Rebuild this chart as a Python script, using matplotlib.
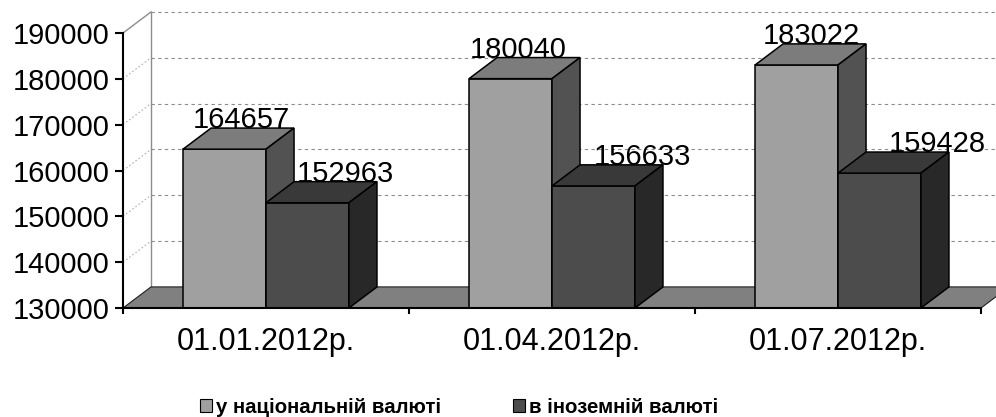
import matplotlib
matplotlib.use("Agg")
import matplotlib.pyplot as plt
from matplotlib.patches import Polygon, Patch

plt.rcParams["font.family"] = ["Liberation Sans", "DejaVu Sans"]

dates = ["01.01.2012р.", "01.04.2012р.", "01.07.2012р."]
national = [164657, 180040, 183022]
foreign = [152963, 156633, 159428]
series_names = ["у національній валюті", "в іноземній валюті"]
y_ticks = [130000, 140000, 150000, 160000, 170000, 180000, 190000]

Y_MIN, Y_MAX = 130000, 190000
DX, DY = 0.098, 4600        # depth of the 3D box (x in categories, y in values)
BAR_W = 0.29
# colours: front, top, side
LIGHT = ("#a0a0a0", "#7c7c7c", "#525252")
DARK = ("#4c4c4c", "#393939", "#282828")
FLOOR = "#808080"
GRID = "#8c8c8c"
# horizontal nudge of value labels (categories)
label_dx_light = [0.035, 0.003, 0.028]
label_dx_dark = [0.108, 0.147, 0.178]

fig = plt.figure(figsize=(9.96, 4.17), dpi=100)
ax = fig.add_axes([123 / 996, 109 / 417, 858 / 996, 275 / 417])
ax.set_xlim(0, 3)
ax.set_ylim(Y_MIN, Y_MAX)


def add_box(x0, v, colors):
    front = [(x0, Y_MIN), (x0 + BAR_W, Y_MIN), (x0 + BAR_W, v), (x0, v)]
    top = [(x0, v), (x0 + BAR_W, v), (x0 + BAR_W + DX, v + DY), (x0 + DX, v + DY)]
    side = [(x0 + BAR_W, Y_MIN), (x0 + BAR_W + DX, Y_MIN + DY),
            (x0 + BAR_W + DX, v + DY), (x0 + BAR_W, v)]
    for pts, c in zip((front, top, side), colors):
        ax.add_patch(Polygon(pts, closed=True, facecolor=c, edgecolor="black",
                             lw=1.1, zorder=3, clip_on=False))


# floor
ax.add_patch(Polygon([(0, Y_MIN), (3, Y_MIN), (3 + DX, Y_MIN + DY), (DX, Y_MIN + DY)],
                     closed=True, facecolor=FLOOR, edgecolor="#202020", lw=0.8,
                     zorder=1, clip_on=False))

# back wall: gridlines, left edge and the diagonals from the axis ticks
for t in y_ticks[1:]:
    ax.plot([DX, 3 + DX], [t + DY, t + DY], color=GRID, lw=0.8,
            ls=(0, (3, 3)), zorder=0.5, clip_on=False)
ax.plot([DX, DX], [Y_MIN + DY, Y_MAX + DY], color=GRID, lw=1.0, zorder=0.5, clip_on=False)
for t in y_ticks[1:-1]:
    ax.plot([0, DX], [t, t + DY], color="#b0b0b0", lw=0.8, ls=(0, (1.5, 2)),
            zorder=0.5, clip_on=False)
ax.plot([0, DX], [Y_MAX, Y_MAX + DY], color=GRID, lw=1.0, zorder=0.5, clip_on=False)

for i in range(len(dates)):
    x_light = i + 0.21
    x_dark = x_light + BAR_W
    add_box(x_light, national[i], LIGHT)
    add_box(x_dark, foreign[i], DARK)
    ax.text(x_light + label_dx_light[i], national[i] + DY, str(national[i]),
            ha="left", va="baseline", fontsize=21, zorder=4, clip_on=False)
    ax.text(x_dark + label_dx_dark[i], foreign[i] + DY, str(foreign[i]),
            ha="left", va="baseline", fontsize=21, zorder=4, clip_on=False)

for s in ("top", "right"):
    ax.spines[s].set_visible(False)
for s in ("left", "bottom"):
    ax.spines[s].set_linewidth(1.5)
    ax.spines[s].set_zorder(3.5)

ax.set_yticks(y_ticks)
ax.set_yticklabels([str(t) for t in y_ticks])
ax.tick_params(axis="y", length=6, width=1.5, pad=3.6, labelsize=21)
ax.set_xticks([0, 1, 2, 3])
ax.set_xticklabels([])
ax.tick_params(axis="x", which="major", length=4, width=1.5)
ax.set_xticks([0.5, 1.5, 2.5], labels=dates, minor=True)
ax.tick_params(axis="x", which="minor", length=0, pad=13.5, labelsize=22)
ax.patch.set_visible(False)

handles = [Patch(facecolor=LIGHT[0], edgecolor="black", lw=0.8),
           Patch(facecolor=DARK[0], edgecolor="black", lw=0.8)]
fig.legend(handles, series_names, loc="lower left", bbox_to_anchor=(200 / 996, 0.0),
           ncol=2, frameon=False, borderpad=0, borderaxespad=0,
           handlelength=0.59, handleheight=0.59, handletextpad=0.2, columnspacing=3.5,
           prop={"family": "Liberation Sans", "weight": "bold", "size": 14.7})

fig.savefig("out.png", dpi=100)
